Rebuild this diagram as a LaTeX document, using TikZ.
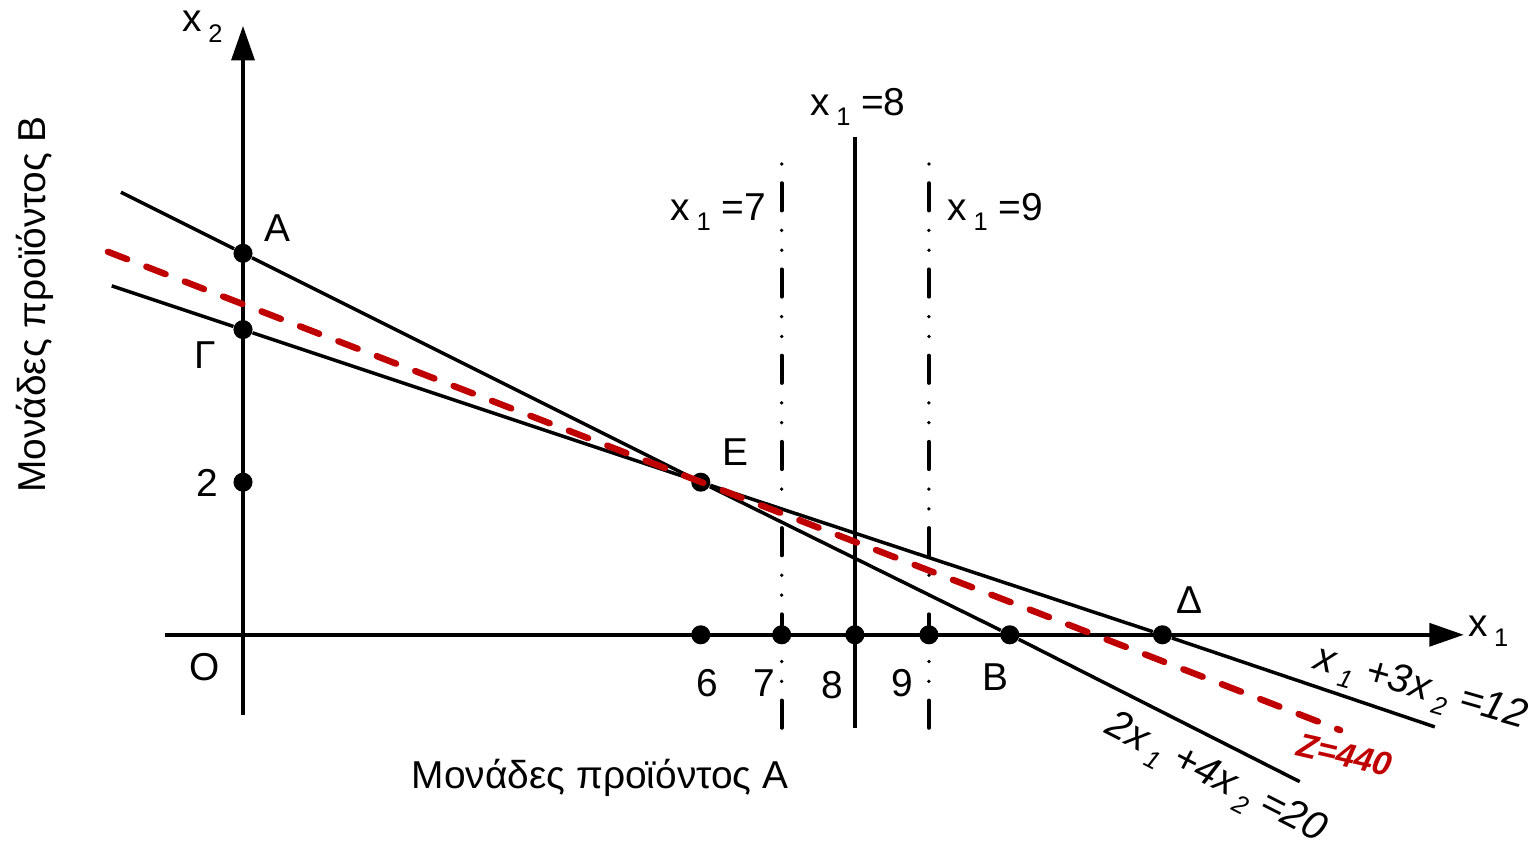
\documentclass[tikz,border=0pt]{standalone}
\usepackage{fontspec}
\setmainfont{Liberation Sans}
\usetikzlibrary{arrows.meta,positioning,calc}
\definecolor{zred}{RGB}{192,0,0}
\newcommand{\sbx}[1]{\,\raisebox{-0.5ex}{\fontsize{9.5}{9.5}\selectfont#1}}

\begin{document}
\begin{tikzpicture}[
    pt/.style={circle, fill=black, inner sep=0pt, minimum size=0.25cm},
    lbl/.style={font=\fontsize{14.5}{17}\selectfont, inner sep=0pt},
    eq/.style={font=\fontsize{15}{18}\selectfont\itshape, inner sep=0pt},
    axis/.style={-{Triangle[length=0.45cm, width=0.3cm]}, line width=1.3pt},
    cons/.style={line width=1.3pt},
    bound/.style={line width=1.4pt, line cap=round, dash pattern=on 0.36cm off 0.25cm on 0pt off 0.26cm on 0pt off 0.26cm},
    zline/.style={draw=zred, line width=2.4pt, line cap=round, dash pattern=on 0.27cm off 0.27cm}
]
\useasboundingbox (-3.185,-2.765) rectangle (16.855,8.32);

% axes
\coordinate (O) at (0,0);
\coordinate (xs) at (-1.02,0);
\coordinate (xe) at (16,0);
\coordinate (ys) at (0,-1.05);
\coordinate (ye) at (0,7.98);
\draw[axis] (xs) -- (xe);
\draw[axis] (ys) -- (ye);

% corner points
\node[pt] (A) at (0,5) {};
\node[pt] (G) at (0,4) {};
\node[pt] (two) at (0,2) {};
\node[pt] (E) at (6,2) {};
\node[pt] (p6) at (6,0) {};
\node[pt] (p7) at (7.06,0) {};
\node[pt] (p8) at (8.02,0) {};
\node[pt] (p9) at (8.99,0) {};
\node[pt] (B) at (10.05,0) {};
\node[pt] (D) at (12.05,0) {};

% constraints
\coordinate (c1s) at (-1.6,5.8);
\coordinate (c1e) at (13.85,-1.925);
\draw[cons] (c1s) -- (A) -- (E) -- (B) -- (c1e);
\coordinate (c2s) at (-1.72,4.573);
\coordinate (c2e) at (15.62,-1.207);
\draw[cons] (c2s) -- (G) -- (E) -- (D) -- (c2e);

% x1 = 7, 8, 9
\coordinate (v7b) at (7.06,-1.22);
\coordinate (v7t) at (7.06,6.42);
\coordinate (v8b) at (8.02,-1.22);
\coordinate (v8t) at (8.02,6.53);
\coordinate (v9b) at (8.99,-1.22);
\coordinate (v9t) at (8.99,6.42);
\draw[bound] (v7b) -- (v7t);
\draw[cons] (v8b) -- (v8t);
\draw[bound] (v9b) -- (v9t);

% objective
\coordinate (zs) at (-1.77,5.02);
\coordinate (ze) at (14.38,-1.25);
\draw[zline] (zs) -- (ze);

% labels
\node[lbl] (lx2) at (-0.53,7.97) {x\sbx{2}};
\node[lbl] (lx1) at (16.32,0.05) {x\sbx{1}};
\node[lbl] (lO) at (-0.5,-0.42) {O};
\node[lbl] (lA) at (0.45,5.33) {Α};
\node[lbl] (lG) at (-0.5,3.67) {Γ};
\node[lbl] (l2) at (-0.47,1.99) {2};
\node[lbl] (lE) at (6.45,2.40) {Ε};
\node[lbl] (lD) at (12.41,0.46) {Δ};
\node[lbl] (lB) at (9.86,-0.56) {Β};
\node[lbl] (l6) at (6.09,-0.63) {6};
\node[lbl] (l7) at (6.83,-0.63) {7};
\node[lbl] (l8) at (7.72,-0.66) {8};
\node[lbl] (l9) at (8.64,-0.63) {9};
\node[lbl] (lv8) at (8.06,6.92) {x\sbx{1} =8};
\node[lbl] (lv7) at (6.23,5.54) {x\sbx{1} =7};
\node[lbl] (lv9) at (9.86,5.54) {x\sbx{1} =9};
\node[lbl] (axA) at (4.68,-1.87) {Μονάδες προϊόντος Α};
\node[lbl, rotate=90] (axB) at (-2.73,4.33) {Μονάδες προϊόντος Β};
\node[eq, rotate=-16] (eq2) at (15.43,-0.72) {x\sbx{1} +3x\sbx{2} =12};
\node[eq, rotate=-27] (eq1) at (12.74,-1.9) {2x\sbx{1} +4x\sbx{2} =20};
\node[font=\fontsize{12.5}{14}\selectfont\bfseries\itshape, text=zred, rotate=-13, inner sep=0pt] (zl) at (14.44,-1.57) {Z=440};
\end{tikzpicture}
\end{document}
